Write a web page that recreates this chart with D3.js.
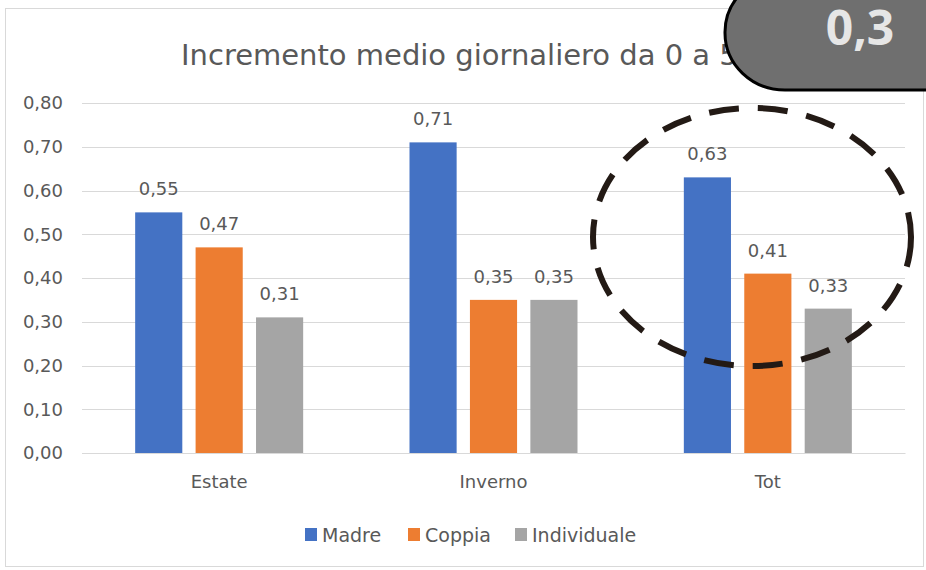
<!DOCTYPE html>
<html>
<head>
<meta charset="utf-8">
<script src="https://cdn.jsdelivr.net/npm/d3@7"></script>
<style>
body { margin: 0; background: #fff; }
svg { display: block; font-family: "DejaVu Sans", "Liberation Sans", sans-serif; }
</style>
</head>
<body>
<div class="diagram"></div>
<script>
const categories = ["Estate", "Inverno", "Tot"];
const seriesNames = ["Madre", "Coppia", "Individuale"];
const madre = [0.55, 0.71, 0.63];
const coppia = [0.47, 0.35, 0.41];
const individuale = [0.31, 0.35, 0.33];
const yTicks = [0, 0.1, 0.2, 0.3, 0.4, 0.5, 0.6, 0.7, 0.8];
const colors = ["#4472c4", "#ed7d31", "#a5a5a5"];

const w = 926, h = 570;
const plotLeft = 82, plotRight = 905, plotTop = 103, plotBottom = 453;
const fmt = d => d.toFixed(2).replace(".", ",");
const textColor = "#595959";

const svg = d3.select(".diagram").append("svg")
  .attr("width", w).attr("height", h);

// chart frame
svg.append("rect")
  .attr("x", 5.5).attr("y", 8.5).attr("width", 918).attr("height", 558)
  .attr("fill", "#fff").attr("stroke", "#d9d9d9");

const x0 = d3.scaleBand().domain(categories).range([plotLeft, plotRight]);
const x1 = d3.scaleBand().domain(seriesNames).range([0, 168]).paddingInner(0.22);
const y = d3.scaleLinear().domain([0, 0.8]).range([plotBottom, plotTop]);

// gridlines
svg.append("g")
  .selectAll("line")
  .data(yTicks)
  .enter()
  .append("line")
  .attr("x1", plotLeft).attr("x2", plotRight)
  .attr("y1", d => Math.round(y(d)) + 0.5).attr("y2", d => Math.round(y(d)) + 0.5)
  .attr("stroke", "#d9d9d9").attr("stroke-width", 1.2);

const yAxis = d3.axisLeft(y).tickValues(yTicks).tickFormat(fmt).tickSize(0).tickPadding(0);
svg.append("g")
  .attr("transform", "translate(63,0)")
  .call(yAxis)
  .call(g => g.select(".domain").remove())
  .selectAll("text")
  .attr("fill", textColor).attr("font-size", 18).attr("font-family", "DejaVu Sans");

const xAxis = d3.axisBottom(x0).tickSize(0).tickPadding(22);
svg.append("g")
  .attr("transform", "translate(0," + plotBottom + ")")
  .call(xAxis)
  .call(g => g.select(".domain").attr("stroke", "#d9d9d9"))
  .selectAll("text")
  .attr("fill", textColor).attr("font-size", 18).attr("font-family", "DejaVu Sans");

const series = [madre, coppia, individuale];
const rows = [];
categories.forEach((c, i) => {
  seriesNames.forEach((s, j) => rows.push({ cat: c, name: s, value: series[j][i], color: colors[j] }));
});

const groupOffset = (x0.bandwidth() - 168) / 2;
svg.append("g")
  .selectAll("rect")
  .data(rows)
  .enter()
  .append("rect")
  .attr("x", d => x0(d.cat) + groupOffset + x1(d.name))
  .attr("y", d => y(d.value))
  .attr("width", x1.bandwidth())
  .attr("height", d => plotBottom - y(d.value))
  .attr("fill", d => d.color);

svg.append("g")
  .selectAll("text")
  .data(rows)
  .enter()
  .append("text")
  .attr("x", d => x0(d.cat) + groupOffset + x1(d.name) + x1.bandwidth() / 2)
  .attr("y", d => y(d.value) - 17)
  .attr("text-anchor", "middle")
  .attr("fill", textColor).attr("font-size", 18)
  .text(d => fmt(d.value));

// title (right part hidden under the badge)
svg.append("text")
  .attr("x", 181).attr("y", 65)
  .attr("fill", textColor).attr("font-size", 29)
  .text("Incremento medio giornaliero da 0 a 50 giorni");

// legend
const legend = svg.append("g").attr("transform", "translate(0,542)");
const legX = [305, 408, 515];
seriesNames.forEach((s, i) => {
  legend.append("rect")
    .attr("x", legX[i]).attr("y", -14).attr("width", 12).attr("height", 13)
    .attr("fill", colors[i]);
  legend.append("text")
    .attr("x", legX[i] + 17).attr("y", 0)
    .attr("fill", textColor).attr("font-size", 19)
    .text(s);
});

// dashed ellipse highlight
svg.append("ellipse")
  .attr("cx", 752).attr("cy", 237).attr("rx", 159).attr("ry", 129)
  .attr("fill", "none").attr("stroke", "#231a15").attr("stroke-width", 6)
  .attr("stroke-dasharray", "30,19");

// callout badge
svg.append("rect")
  .attr("x", 725).attr("y", -25).attr("width", 260).attr("height", 115)
  .attr("rx", 60).attr("ry", 57)
  .attr("fill", "#6f6f6f").attr("stroke", "#000").attr("stroke-width", 3);
svg.append("text")
  .attr("x", 860).attr("y", 45)
  .attr("text-anchor", "middle")
  .attr("fill", "#e6e6e6").attr("font-size", 48).attr("font-weight", "bold")
  .attr("font-family", "Open Sans")
  .text("0,3");
</script>
</body>
</html>
